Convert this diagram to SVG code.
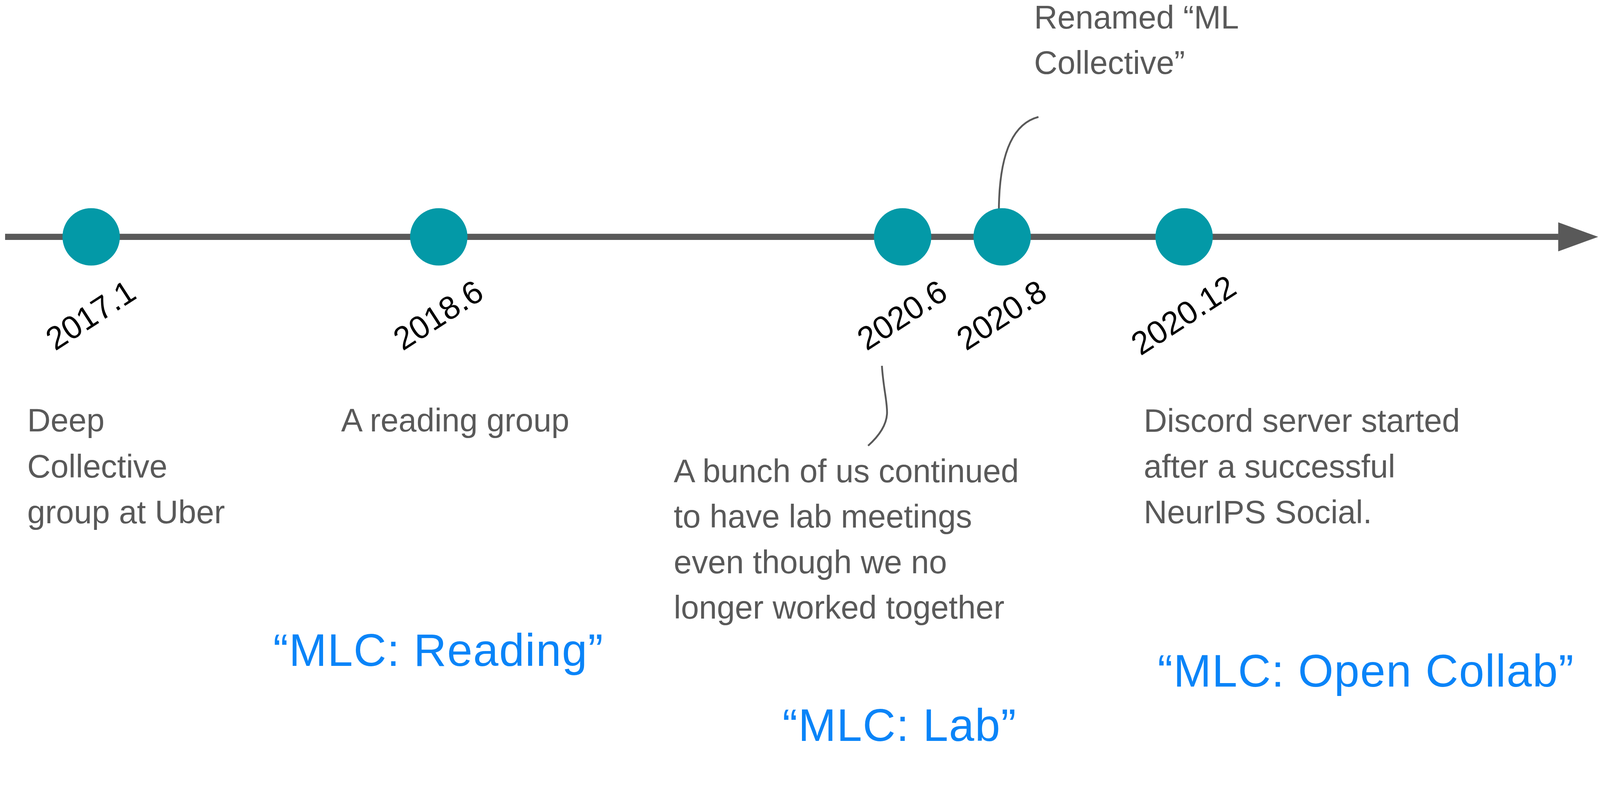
<svg xmlns="http://www.w3.org/2000/svg" width="4405" height="2060" viewBox="0 0 4405 2060" style="max-width:100%;height:auto">
  <style>
    .body { font-family: "Liberation Sans", Arial, sans-serif; font-size: 89px; fill: #595959; }
    .date { font-family: "Liberation Sans", Arial, sans-serif; font-size: 89px; fill: #000000; text-anchor: middle; }
    .era { font-family: "Liberation Sans", Arial, sans-serif; font-size: 125px; fill: #0a84f8; letter-spacing: 2px; }
    .dot { fill: #0399a7; }
    .callout { fill: none; stroke: #595959; stroke-width: 5; }
  </style>
  <defs>
    <marker id="arrow" markerUnits="userSpaceOnUse" viewBox="0 -40 110 80" refX="0" refY="0" markerWidth="110" markerHeight="80" orient="auto">
      <path d="M0,-40 L110,0 L0,40 Z" fill="#595959"/>
    </marker>
  </defs>
  <rect width="4405" height="2060" fill="#ffffff"/>
  <g id="connectors">
    <line id="axis" x1="14" y1="652" x2="4290" y2="652" stroke="#595959" stroke-width="17" marker-end="url(#arrow)"/>
    <path id="callout-2020-8" class="callout" d="M2750,584 C2750,420 2790,340 2859,322"/>
    <path id="callout-2020-6" class="callout" d="M2428,1007 C2432,1070 2444,1110 2442,1140 S2420,1200 2390,1227"/>
  </g>
  <g id="node-2017-1">
    <circle class="dot" cx="251" cy="652" r="79"/>
    <text class="date" transform="translate(266,893) rotate(-33)">2017.1</text>
    <text class="body" x="75" y="1188">Deep</text>
    <text class="body" x="75" y="1314">Collective</text>
    <text class="body" x="75" y="1440">group at Uber</text>
  </g>
  <g id="node-2018-6">
    <circle class="dot" cx="1208" cy="652" r="79"/>
    <text class="date" transform="translate(1223,893) rotate(-33)">2018.6</text>
    <text class="body" x="939" y="1188">A reading group</text>
  </g>
  <g id="node-2020-6">
    <circle class="dot" cx="2485" cy="652" r="79"/>
    <text class="date" transform="translate(2500,893) rotate(-33)">2020.6</text>
    <text class="body" x="1855" y="1327">A bunch of us continued</text>
    <text class="body" x="1855" y="1452">to have lab meetings</text>
    <text class="body" x="1855" y="1578">even though we no</text>
    <text class="body" x="1855" y="1703">longer worked together</text>
  </g>
  <g id="node-2020-8">
    <circle class="dot" cx="2759" cy="652" r="79"/>
    <text class="date" transform="translate(2774,893) rotate(-33)">2020.8</text>
    <text class="body" x="2847" y="78">Renamed “ML</text>
    <text class="body" x="2847" y="203">Collective”</text>
  </g>
  <g id="node-2020-12">
    <circle class="dot" cx="3260" cy="652" r="79"/>
    <text class="date" transform="translate(3275,893) rotate(-33)">2020.12</text>
    <text class="body" x="3149" y="1189">Discord server started</text>
    <text class="body" x="3149" y="1314">after a successful</text>
    <text class="body" x="3149" y="1440">NeurIPS Social.</text>
  </g>
  <g id="eras">
    <text class="era" x="752" y="1833">“MLC: Reading”</text>
    <text class="era" x="2154" y="2040">“MLC: Lab”</text>
    <text class="era" x="3187" y="1890">“MLC: Open Collab”</text>
  </g>
</svg>
